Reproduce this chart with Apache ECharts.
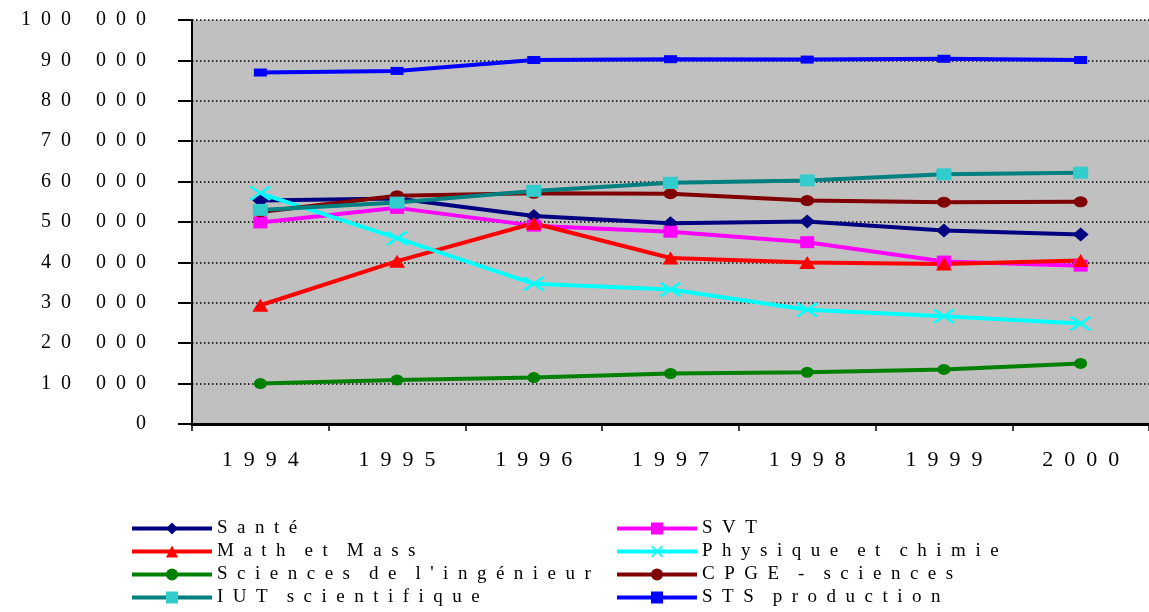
<!DOCTYPE html>
<html>
<head>
<meta charset="utf-8">
<script src="https://cdn.jsdelivr.net/npm/echarts@6/dist/echarts.min.js"></script>
<style>
  html, body { margin: 0; padding: 0; background: #fff; }
  #chart { width: 1149px; height: 612px; }
</style>
</head>
<body>
<div id="chart"></div>
<script>
  const years = ['1994', '1995', '1996', '1997', '1998', '1999', '2000'];

  const sante = [55300, 55800, 51500, 49700, 50100, 47900, 46900];
  const svt = [49900, 53500, 49100, 47600, 45000, 40200, 39200];
  const mathMass = [29400, 40300, 49700, 41100, 40000, 39600, 40500];
  const physique = [57100, 46000, 34700, 33300, 28300, 26700, 24900];
  const sciencesIng = [10000, 10900, 11500, 12500, 12800, 13500, 15000];
  const cpge = [52500, 56500, 57100, 57000, 55300, 54900, 55000];
  const iut = [53000, 54800, 57700, 59700, 60300, 61800, 62200];
  const sts = [87000, 87400, 90100, 90300, 90200, 90400, 90100];

  const serif = '"Liberation Serif", "DejaVu Serif", serif';
  const crossPath = 'path://M0,1 L1,0 L5,4 L9,0 L10,1 L6,5 L10,9 L9,10 L5,6 L1,10 L0,9 L4,5 Z';

  // spread characters like the original Excel export
  const spread = (s, gap) => s.split('').join(gap);

  const yLabel = (v) => {
    if (v === 0) return '0';
    const s = String(v);
    const head = s.slice(0, s.length - 3);
    const tail = s.slice(-3);
    return spread(head, '  ') + '     ' + spread(tail, '  ');
  };

  const mk = (name, data, color, symbol, size, markerColor) => ({
    name,
    type: 'line',
    data,
    symbol,
    symbolSize: size,
    showSymbol: true,
    lineStyle: { color, width: 4 },
    itemStyle: { color: markerColor || color },
    emphasis: { disabled: true },
    animation: false,
  });

  const series = [
    mk('Santé', sante, '#000080', 'diamond', [16, 14]),
    mk('SVT', svt, '#ff00ff', 'rect', [14, 12]),
    mk('Math et Mass', mathMass, '#ff0000', 'triangle', [16, 13]),
    mk('Physique et chimie', physique, '#00ffff', crossPath, [22, 15]),
    mk('Sciences de l\'ingénieur', sciencesIng, '#008000', 'circle', [13, 11]),
    mk('CPGE - sciences', cpge, '#800000', 'circle', [14, 11]),
    mk('IUT scientifique', iut, '#008080', 'rect', [15, 12], '#33cccc'),
    mk('STS production', sts, '#0000ff', 'rect', [13, 8]),
  ];

  const legendBase = {
    orient: 'vertical',
    top: 519,
    padding: 0,
    itemWidth: 80,
    itemHeight: 15,
    itemGap: 4,
    selectedMode: false,
    lineStyle: { width: 4 },
    textStyle: { fontFamily: serif, fontSize: 19, color: '#000', lineHeight: 18 },
    formatter: (name) => name.split(' ').map((w) => spread(w, '  ')).join('    '),
  };

  const chart = echarts.init(document.getElementById('chart'), null, { renderer: 'canvas' });
  chart.setOption({
    backgroundColor: '#fff',
    animation: false,
    grid: {
      left: 192,
      top: 20,
      right: -11,
      bottom: 188,
      show: true,
      backgroundColor: '#c0c0c0',
      borderWidth: 0,
    },
    legend: [
      Object.assign({}, legendBase, {
        left: 130,
        data: ['Santé', 'Math et Mass', 'Sciences de l\'ingénieur', 'IUT scientifique'],
      }),
      Object.assign({}, legendBase, {
        left: 615,
        data: ['SVT', 'Physique et chimie', 'CPGE - sciences', 'STS production'],
      }),
    ],
    xAxis: {
      type: 'category',
      data: years,
      boundaryGap: true,
      axisLine: { lineStyle: { color: '#000', width: 3 } },
      axisTick: { show: true, inside: false, length: 7, lineStyle: { color: '#000', width: 1.5 } },
      axisLabel: {
        margin: 25,
        fontFamily: serif,
        fontSize: 22,
        color: '#000',
        formatter: (v) => spread(v, '  '),
      },
      splitLine: { show: false },
    },
    yAxis: {
      type: 'value',
      min: 0,
      max: 100000,
      interval: 10000,
      axisLine: { show: true, lineStyle: { color: '#000', width: 2 } },
      axisTick: { show: true, inside: false, length: 14, lineStyle: { color: '#000', width: 2 } },
      axisLabel: {
        margin: 46,
        fontFamily: serif,
        fontSize: 20,
        color: '#000',
        formatter: yLabel,
      },
      splitLine: { show: true, lineStyle: { color: '#000', width: 1.5, type: [1.5, 2.5] } },
    },
    series,
  });
</script>
</body>
</html>
